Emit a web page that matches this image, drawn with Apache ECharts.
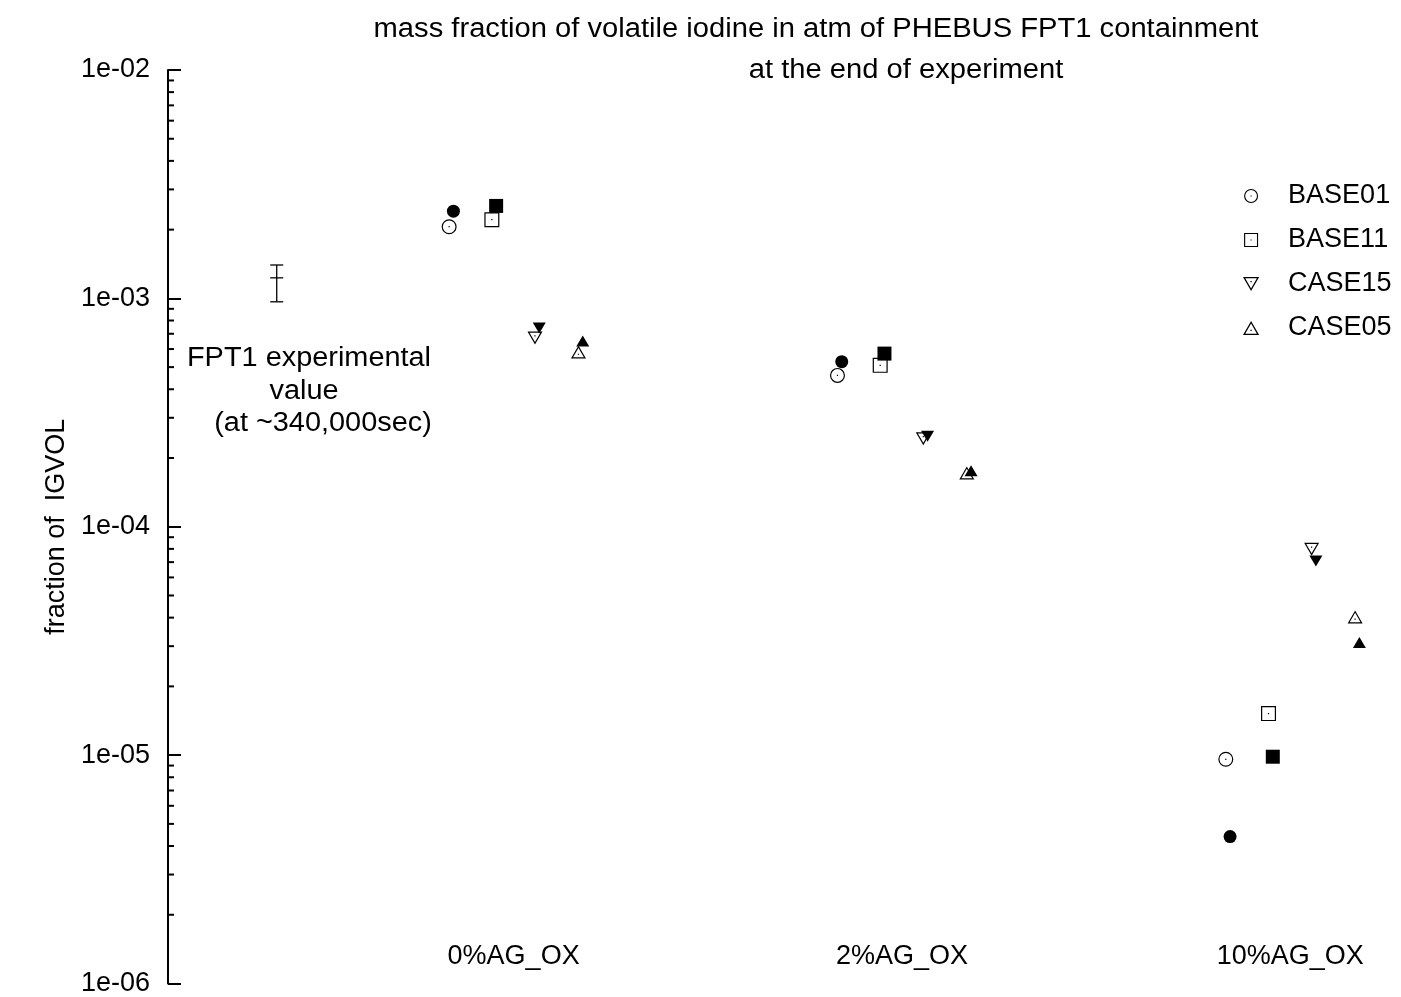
<!DOCTYPE html>
<html>
<head>
<meta charset="utf-8">
<script src="https://cdn.jsdelivr.net/npm/echarts@6/dist/echarts.min.js"></script>
<style>
  html, body { margin: 0; padding: 0; background: #fff; }
  #chart { width: 1401px; height: 997px; }
</style>
</head>
<body>
<div id="chart"></div>
<script>
'use strict';

// categories along x (gnuplot style numeric x positions)
const categories = ['0%AG_OX', '2%AG_OX', '10%AG_OX'];
const groupX = [1, 2, 3];

// legend series and their x offset inside a group
const seriesNames = ['BASE01', 'BASE11', 'CASE15', 'CASE05'];
const seriesOffsets = [-0.166, -0.056, 0.055, 0.167];
const filledShift = 0.011;

// open symbols (in legend)
const base01Open = [2.06e-3, 4.60e-4, 9.59e-6];
const base11Open = [2.21e-3, 5.09e-4, 1.52e-5];
const case15Open = [6.71e-4, 2.43e-4, 7.97e-5];
const case05Open = [5.82e-4, 1.72e-4, 4.03e-5];

// filled symbols (no legend entry)
const base01Filled = [2.41e-3, 5.28e-4, 4.40e-6];
const base11Filled = [2.54e-3, 5.73e-4, 9.84e-6];
const case15Filled = [7.41e-4, 2.49e-4, 7.08e-5];
const case05Filled = [6.50e-4, 1.76e-4, 3.11e-5];

// experimental value with error bar  [x, value, low, high]
const expPoint = [0.39, 1.23e-3, 0.966e-3, 1.40e-3];

// y axis
const yMin = 1e-6, yMax = 1e-2;
const minorMult = [2, 3, 4, 5, 6, 7, 8, 9];
const minorDecades = [1e-6, 1e-5, 1e-4, 1e-3];
const xMin = 0.11, xMax = 3.28;

const FONT = '"Liberation Sans", Arial, Helvetica, sans-serif';

// symbols: ring + centre dot (inner contour reversed so it stays hollow)
const openCircle = 'path://M50,0 A50,50 0 1,1 50,100 A50,50 0 1,1 50,0 Z M50,8 A42,42 0 1,0 50,92 A42,42 0 1,0 50,8 Z M46,46 L54,46 L54,54 L46,54 Z';
const openSquare = 'path://M0,0 L100,0 L100,100 L0,100 Z M8,8 L8,92 L92,92 L92,8 Z M46,46 L54,46 L54,54 L46,54 Z';
const openDown = 'path://M0,0 L100,0 L50,86.6 Z M13.9,8 L50,70.6 L86.1,8 Z M46,25 L54,25 L54,33 L46,33 Z';
const openUp = 'path://M50,0 L100,86.6 L0,86.6 Z M50,16 L13.9,78.6 L86.1,78.6 Z M46,54 L54,54 L54,62 L46,62 Z';
const filledDown = 'path://M0,0 L100,0 L50,86.6 Z';
const filledUp = 'path://M50,0 L100,86.6 L0,86.6 Z';

const openData = [base01Open, base11Open, case15Open, case05Open];
const filledData = [base01Filled, base11Filled, case15Filled, case05Filled];
const openSymbols = [openCircle, openSquare, openDown, openUp];
const filledSymbols = ['circle', 'rect', filledDown, filledUp];
const openSizes = [[15, 15], [15, 15], [15, 13], [15, 13]];
const filledSizes = [[13, 13], [14, 14], [13, 11], [13, 11]];

const series = [];
seriesNames.forEach((name, i) => {
    series.push({
        name: name,
        type: 'scatter',
        symbol: openSymbols[i],
        symbolSize: openSizes[i],
        itemStyle: { color: '#000', opacity: 1 },
        data: openData[i].map((v, k) => [groupX[k] + seriesOffsets[i], v]),
        z: 2
    });
});
seriesNames.forEach((name, i) => {
    series.push({
        name: name + ' filled',
        type: 'scatter',
        symbol: filledSymbols[i],
        symbolSize: filledSizes[i],
        itemStyle: { color: '#000', opacity: 1 },
        data: filledData[i].map((v, k) => [groupX[k] + seriesOffsets[i] + filledShift, v]),
        z: 3
    });
});

// error bar of the experiment
series.push({
    name: 'FPT1',
    type: 'custom',
    silent: true,
    data: [expPoint],
    encode: { x: 0, y: [1, 2, 3] },
    renderItem: (params, api) => {
        const x = api.value(0);
        const mid = api.coord([x, api.value(1)]);
        const lo = api.coord([x, api.value(2)]);
        const hi = api.coord([x, api.value(3)]);
        const w = 6.5;
        const st = { stroke: '#000', lineWidth: 1.3 };
        return {
            type: 'group',
            children: [
                { type: 'line', shape: { x1: lo[0], y1: lo[1], x2: hi[0], y2: hi[1] }, style: st },
                { type: 'line', shape: { x1: hi[0] - w, y1: hi[1], x2: hi[0] + w, y2: hi[1] }, style: st },
                { type: 'line', shape: { x1: lo[0] - w, y1: lo[1], x2: lo[0] + w, y2: lo[1] }, style: st },
                { type: 'line', shape: { x1: mid[0] - w, y1: mid[1], x2: mid[0] + w, y2: mid[1] }, style: st }
            ]
        };
    }
});

// minor log ticks 2..9 of every decade
const minorTicks = [];
minorDecades.forEach(d => minorMult.forEach(m => minorTicks.push([xMin, m * d])));
series.push({
    name: 'minor ticks',
    type: 'custom',
    silent: true,
    clip: false,
    data: minorTicks,
    renderItem: (params, api) => {
        const p = api.coord([api.value(0), api.value(1)]);
        return {
            type: 'line',
            shape: { x1: p[0], y1: p[1], x2: p[0] + 6, y2: p[1] },
            style: { stroke: '#000', lineWidth: 2 }
        };
    }
});

function expLabel(v) {
    const e = Math.round(Math.log10(v));
    return '1e' + (e < 0 ? '-' : '+') + String(Math.abs(e)).padStart(2, '0');
}

const textStyle = { fontFamily: FONT, fontSize: 27, color: '#000' };

function label(text, x, y, sx) {
    return {
        type: 'text', x: x, y: y, scaleX: sx,
        style: { text: text, align: 'center', textAlign: 'center', verticalAlign: 'middle', textVerticalAlign: 'middle', font: '27px ' + FONT, fill: '#000' }
    };
}

const chart = echarts.init(document.getElementById('chart'));
chart.setOption({
    animation: false,
    backgroundColor: '#fff',
    grid: { left: 168, right: 2, top: 70, bottom: 13 },
    legend: {
        data: seriesNames,
        orient: 'vertical',
        left: 1238,
        top: 176,
        itemWidth: 64,
        itemHeight: 14,
        itemGap: 14,
        selectedMode: false,
        textStyle: Object.assign({ lineHeight: 30 }, textStyle)
    },
    xAxis: {
        type: 'value',
        min: xMin,
        max: xMax,
        offset: -48,
        axisLine: { show: false },
        axisTick: { show: false },
        splitLine: { show: false },
        axisLabel: Object.assign({
            customValues: groupX,
            margin: 8,
            formatter: v => categories[groupX.indexOf(Math.round(v))] || ''
        }, textStyle)
    },
    yAxis: {
        type: 'log',
        logBase: 10,
        min: yMin,
        max: yMax,
        name: 'fraction of  IGVOL',
        nameLocation: 'middle',
        nameGap: 97,
        nameTextStyle: textStyle,
        axisLine: { lineStyle: { color: '#000', width: 2 } },
        axisTick: { inside: true, length: 13, lineStyle: { color: '#000', width: 2 } },
        splitLine: { show: false },
        axisLabel: Object.assign({ margin: 18, formatter: expLabel }, textStyle)
    },
    graphic: [
        label('mass fraction of volatile iodine in atm of PHEBUS FPT1 containment', 816, 30, 1.08),
        label('at the end of experiment', 906, 71, 1.08),
        label('FPT1 experimental', 309, 359, 1.07),
        label('value', 304, 392, 1.07),
        label('(at ~340,000sec)', 323, 424, 1.07)
    ],
    series: series
});
</script>
</body>
</html>
